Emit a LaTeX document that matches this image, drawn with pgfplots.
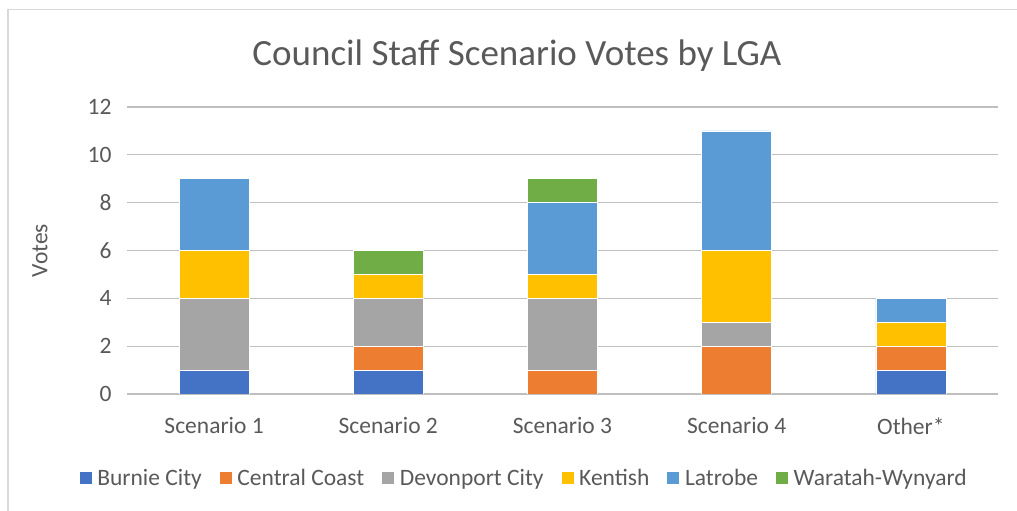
\documentclass[border=0pt]{standalone}
\usepackage{pgfplots}
\pgfplotsset{compat=1.18}
\usepackage{fontspec}
\setmainfont{Carlito}
\definecolor{cBur}{HTML}{4472C4}
\definecolor{cCC}{HTML}{ED7D31}
\definecolor{cDev}{HTML}{A5A5A5}
\definecolor{cKen}{HTML}{FFC000}
\definecolor{cLat}{HTML}{5B9BD5}
\definecolor{cWar}{HTML}{70AD47}
\definecolor{txt}{HTML}{595959}
\definecolor{grid}{HTML}{D9D9D9}
\begin{document}
\begin{tikzpicture}[x=1pt,y=1pt]
\useasboundingbox (0,0) rectangle (1017,511);
\draw[grid, line width=1.2pt] (8,-2) -- (8,501.5) -- (1020,501.5);
\node[text=txt, font=\fontsize{37}{44}\selectfont] at (517,455) {Council Staff Scenario Votes by LGA};
\begin{axis}[
  at={(127pt,117pt)}, anchor=south west,
  scale only axis, width=871pt, height=287pt,
  xmin=-0.5, xmax=4.5, ymin=0, ymax=12,
  ybar stacked, bar width=70pt,
  xtick={0,1,2,3,4},
  xticklabels={Scenario 1,Scenario 2,Scenario 3,Scenario 4,Other*},
  ytick={0,2,4,6,8,10,12},
  ymajorgrids, xmajorgrids=false, grid style={grid, line width=1.2pt},
  axis line style={draw=none},
  major tick length=0pt, tick style={draw=none},
  tick label style={text=txt, font=\fontsize{23.5}{28}\selectfont},
  /pgf/number format/assume math mode=true,
  yticklabel style={xshift=-12pt},
  xticklabel style={yshift=-20pt},
  ylabel={Votes},
  every axis y label/.style={at={(axis description cs:-0.0999,0.5)}, rotate=90, anchor=center,
    text=txt, font=\fontsize{23.5}{28}\selectfont},
  legend columns=6,
  legend style={at={(0.4555,-0.293)}, anchor=center, draw=none, fill=none,
    font=\fontsize{23.5}{28}\selectfont, text=txt,
    /tikz/every odd column/.append style={column sep=3pt},
    /tikz/every even column/.append style={column sep=15pt}},
  legend image code/.code={\fill[#1] (0pt,-6.5pt) rectangle (13pt,6.5pt);},
  every axis plot/.append style={draw=white, line width=0.6pt},
]
\addplot[fill=cBur] coordinates {(0,1) (1,1) (2,0) (3,0) (4,1)};
\addplot[fill=cCC] coordinates {(0,0) (1,1) (2,1) (3,2) (4,1)};
\addplot[fill=cDev] coordinates {(0,3) (1,2) (2,3) (3,1) (4,0)};
\addplot[fill=cKen] coordinates {(0,2) (1,1) (2,1) (3,3) (4,1)};
\addplot[fill=cLat] coordinates {(0,3) (1,0) (2,3) (3,5) (4,1)};
\addplot[fill=cWar] coordinates {(0,0) (1,1) (2,1) (3,0) (4,0)};
\legend{Burnie City,Central Coast,Devonport City,Kentish,Latrobe,Waratah-Wynyard}
\end{axis}
\end{tikzpicture}
\end{document}
